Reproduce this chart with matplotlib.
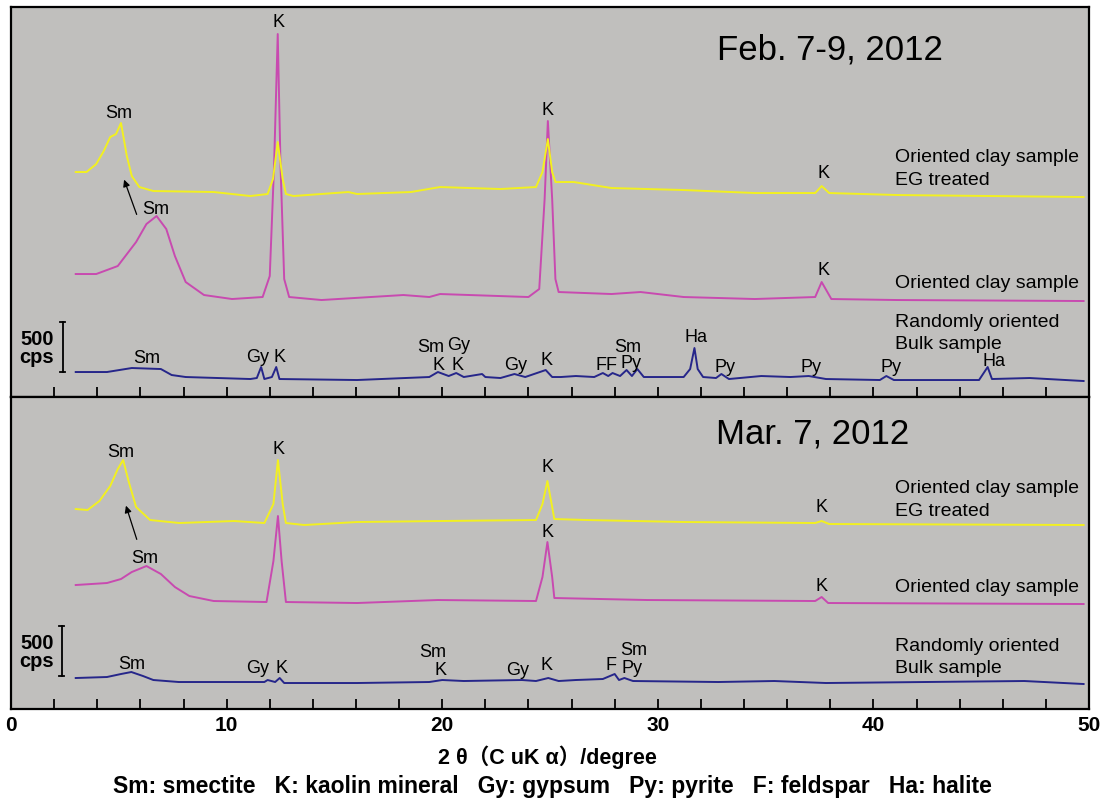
import matplotlib
matplotlib.use("Agg")
import matplotlib.pyplot as plt
import numpy as np

plt.rcParams['font.family'] = ['Liberation Sans', 'Noto Sans CJK JP', 'DejaVu Sans']

# -------------------- DATA (2theta in degree, intensity in cps with stacking offset) --------------------
# Feb. 7-9, 2012
feb_eg_x = [3.0, 3.5, 3.95, 4.3, 4.6, 4.87, 5.1, 5.37, 5.6, 5.95, 6.6, 9.4, 11.1, 11.9, 12.15, 12.37,
            12.6, 12.75, 13.1, 15.65, 16.05, 18.55, 19.9, 22.7, 24.35, 24.65, 24.9, 25.1, 25.25,
            26.1, 27.85, 31.2, 34.5, 37.3, 37.6, 37.95, 41.1, 49.75]
feb_eg_y = [2250, 2250, 2330, 2460, 2600, 2630, 2740, 2410, 2210, 2100, 2060, 2050, 2010, 2030, 2180, 2550,
            2180, 2030, 2010, 2050, 2030, 2050, 2100, 2080, 2100, 2250, 2580, 2250, 2150,
            2150, 2090, 2070, 2040, 2040, 2110, 2040, 2020, 2000]

feb_or_x = [3.0, 3.95, 4.95, 5.8, 6.28, 6.75, 7.2, 7.6, 8.1, 8.95, 10.25, 11.67, 12.0, 12.2, 12.37,
            12.5, 12.67, 12.9, 14.4, 18.2, 19.4, 19.9, 24.0, 24.5, 24.75, 24.9, 25.1, 25.25, 25.4,
            27.85, 29.2, 31.2, 34.5, 37.3, 37.6, 38.05, 41.1, 49.75]
feb_or_y = [1230, 1230, 1310, 1550, 1730, 1810, 1680, 1410, 1150, 1020, 980, 1000, 1210, 2310, 3630,
            2310, 1180, 1000, 970, 1020, 1000, 1030, 1000, 1080, 1980, 2760, 1980, 1180, 1050,
            1030, 1050, 1000, 980, 1000, 1150, 980, 970, 960]

feb_bulk_x = [3.0, 4.45, 5.6, 6.95, 7.45, 8.1, 11.1, 11.4, 11.6, 11.75, 12.1, 12.3, 12.45, 16.05,
              19.4, 19.8, 20.3, 20.65, 21.0, 21.85, 22.0, 22.7, 23.35, 23.85, 24.8, 25.1, 25.5,
              26.2, 27.05, 27.45, 27.7, 27.9, 28.25, 28.55, 28.8, 29.05, 29.35, 31.2, 31.5, 31.7,
              31.85, 32.1, 32.7, 32.95, 33.3, 34.8, 36.15, 37.0, 37.8, 40.3, 40.6, 40.95, 44.9,
              45.3, 45.5, 47.25, 49.75]
feb_bulk_y = [250, 250, 290, 280, 220, 200, 180, 190, 300, 180, 200, 300, 180, 170,
              200, 250, 210, 240, 200, 230, 200, 190, 230, 200, 270, 200, 200,
              210, 200, 240, 210, 240, 210, 270, 210, 280, 200, 200, 280, 490,
              280, 200, 190, 230, 180, 210, 200, 210, 180, 170, 210, 170, 170,
              300, 180, 190, 160]

# Mar. 7, 2012
mar_eg_x = [3.0, 3.55, 4.1, 4.6, 4.95, 5.2, 5.45, 5.8, 6.45, 7.8, 10.35, 11.75, 12.17, 12.38, 12.6,
            12.75, 13.6, 16.05, 19.9, 24.35, 24.65, 24.88, 25.1, 25.2, 26.7, 31.2, 37.3, 37.6,
            37.95, 49.75]
mar_eg_y = [2000, 1990, 2080, 2230, 2400, 2490, 2280, 2020, 1890, 1860, 1880, 1860, 2050, 2490, 2050,
            1860, 1840, 1870, 1880, 1890, 2050, 2280, 2020, 1900, 1890, 1870, 1860, 1880,
            1850, 1840]

mar_or_x = [3.0, 4.45, 5.1, 5.6, 6.28, 6.95, 7.6, 8.27, 9.4, 11.85, 12.17, 12.38, 12.55, 12.75,
            16.05, 19.8, 24.35, 24.65, 24.88, 25.1, 25.2, 29.5, 37.3, 37.6, 37.9, 49.75]
mar_or_y = [1240, 1260, 1300, 1370, 1430, 1350, 1220, 1130, 1080, 1070, 1480, 1930, 1480, 1070,
            1060, 1090, 1080, 1320, 1670, 1320, 1110, 1090, 1080, 1120, 1060, 1050]

mar_bulk_x = [3.0, 4.45, 5.1, 5.58, 6.12, 6.6, 7.78, 11.75, 11.9, 12.25, 12.46, 12.67, 16.05, 19.4,
              20.0, 21.0, 23.7, 24.35, 24.92, 25.4, 26.2, 27.45, 28.0, 28.2, 28.45, 28.85, 32.8,
              35.4, 37.8, 47.0, 49.75]
mar_bulk_y = [310, 320, 350, 370, 330, 290, 270, 270, 290, 270, 310, 260, 260, 270,
              290, 280, 290, 280, 310, 280, 290, 300, 350, 290, 310, 280, 270,
              280, 260, 280, 250]

# peak labels: (text, 2theta, y)
feb_labels = [("K", 12.4, 3760), ("Sm", 5.0, 2850), ("Sm", 6.7, 1890), ("K", 24.9, 2880),
              ("K", 37.7, 2250), ("K", 37.7, 1280),
              ("Sm", 6.3, 400), ("Gy", 11.45, 410), ("K", 12.45, 410), ("Sm", 19.45, 510),
              ("Gy", 20.75, 530), ("K", 19.85, 330), ("K", 20.7, 330), ("Gy", 23.4, 330),
              ("K", 24.85, 380), ("FF", 27.6, 330), ("Sm", 28.6, 510), ("Py", 28.75, 350),
              ("Ha", 31.75, 610), ("Py", 33.1, 310), ("Py", 37.1, 310), ("Py", 40.8, 310),
              ("Ha", 45.6, 370)]
mar_labels = [("K", 12.4, 2610), ("Sm", 5.1, 2580), ("Sm", 6.2, 1520), ("K", 24.9, 2430),
              ("K", 24.9, 1780), ("K", 37.6, 2030), ("K", 37.6, 1240),
              ("Sm", 5.6, 460), ("Gy", 11.45, 420), ("K", 12.55, 420), ("Sm", 19.55, 580),
              ("K", 19.9, 400), ("Gy", 23.5, 400), ("K", 24.85, 450), ("F", 27.85, 450),
              ("Sm", 28.9, 600), ("Py", 28.8, 420)]

YELLOW = '#f2f020'
MAGENTA = '#c84ab0'
NAVY = '#26268a'
BG = '#c0bfbd'

# -------------------- FIGURE --------------------
fig = plt.figure(figsize=(11.05, 8.03), dpi=100)
gs = fig.add_gridspec(2, 1, height_ratios=[390, 312], hspace=0,
                      left=0.0100, right=0.9855, top=0.990, bottom=0.1158)
ax1 = fig.add_subplot(gs[0])
ax2 = fig.add_subplot(gs[1], sharex=ax1)


def draw_panel(ax, eg, orient, bulk, labels, title, ylim, trace_labels, sb, arrow):
    ax.set_facecolor(BG)
    ax.plot(bulk[0], bulk[1], color=NAVY, lw=1.4)
    ax.plot(orient[0], orient[1], color=MAGENTA, lw=1.4)
    ax.plot(eg[0], eg[1], color=YELLOW, lw=1.4)
    ax.set_ylim(*ylim)
    ax.set_yticks([])
    for txt, x, y in labels:
        ax.text(x, y, txt, ha='center', va='center', fontsize=13)
    ax.text(title[1], title[2], title[0], ha='center', va='center', fontsize=25)
    for txt, y in trace_labels:
        ax.text(41.0, y, txt, ha='left', va='center', fontsize=14)
    # scale bar 500 cps
    ax.plot([sb[0], sb[0]], [sb[1], sb[1] + 500], color='black', lw=1.3)
    ax.plot([sb[0] - 0.12, sb[0] + 0.12], [sb[1], sb[1]], color='black', lw=1.3)
    ax.plot([sb[0] - 0.12, sb[0] + 0.12], [sb[1] + 500, sb[1] + 500], color='black', lw=1.3)
    ax.text(1.2, sb[1] + 340, "500", ha='center', va='center', fontsize=14.5, fontweight='bold')
    ax.text(1.2, sb[1] + 160, "cps", ha='center', va='center', fontsize=14.5, fontweight='bold')
    ax.annotate("", xy=arrow[1], xytext=arrow[0],
                arrowprops=dict(arrowstyle='-|>', color='black', lw=0.9, mutation_scale=10))
    for s in ax.spines.values():
        s.set_linewidth(1.6)
    ax.tick_params(axis='x', direction='in', length=7, width=1.3, top=False)


draw_panel(ax1, (feb_eg_x, feb_eg_y), (feb_or_x, feb_or_y), (feb_bulk_x, feb_bulk_y),
           feb_labels, ("Feb. 7-9, 2012", 38.0, 3480), (0, 3900),
           [("Oriented clay sample", 2410), ("EG treated", 2180),
            ("Oriented clay sample", 1150), ("Randomly oriented", 760), ("Bulk sample", 540)],
           (2.4, 250), ((5.87, 1800), (5.2, 2200)))
draw_panel(ax2, (mar_eg_x, mar_eg_y), (mar_or_x, mar_or_y), (mar_bulk_x, mar_bulk_y),
           mar_labels, ("Mar. 7, 2012", 37.2, 2760), (0, 3120),
           [("Oriented clay sample", 2220), ("EG treated", 1990),
            ("Oriented clay sample", 1230), ("Randomly oriented", 640), ("Bulk sample", 420)],
           (2.35, 330), ((5.87, 1670), (5.29, 2060)))

ax1.set_xlim(0, 50)
ax1.set_xticks(np.arange(0, 51, 2))
ax1.tick_params(axis='x', labelbottom=False)
ax2.set_xticks(np.arange(0, 51, 2))
ax2.set_xticklabels([str(t) if t % 10 == 0 else "" for t in range(0, 51, 2)],
                    fontsize=15, fontweight='bold')
ax2.tick_params(axis='x', pad=4)

fig.text(0.495, 0.057, "2 θ（C uK α）/degree", ha='center', va='center',
         fontsize=15.5, fontweight='bold')
fig.text(0.50, 0.021,
         "Sm: smectite   K: kaolin mineral   Gy: gypsum   Py: pyrite   F: feldspar   Ha: halite",
         ha='center', va='center', fontsize=16.5, fontweight='bold')

fig.savefig("out.png", dpi=100)
